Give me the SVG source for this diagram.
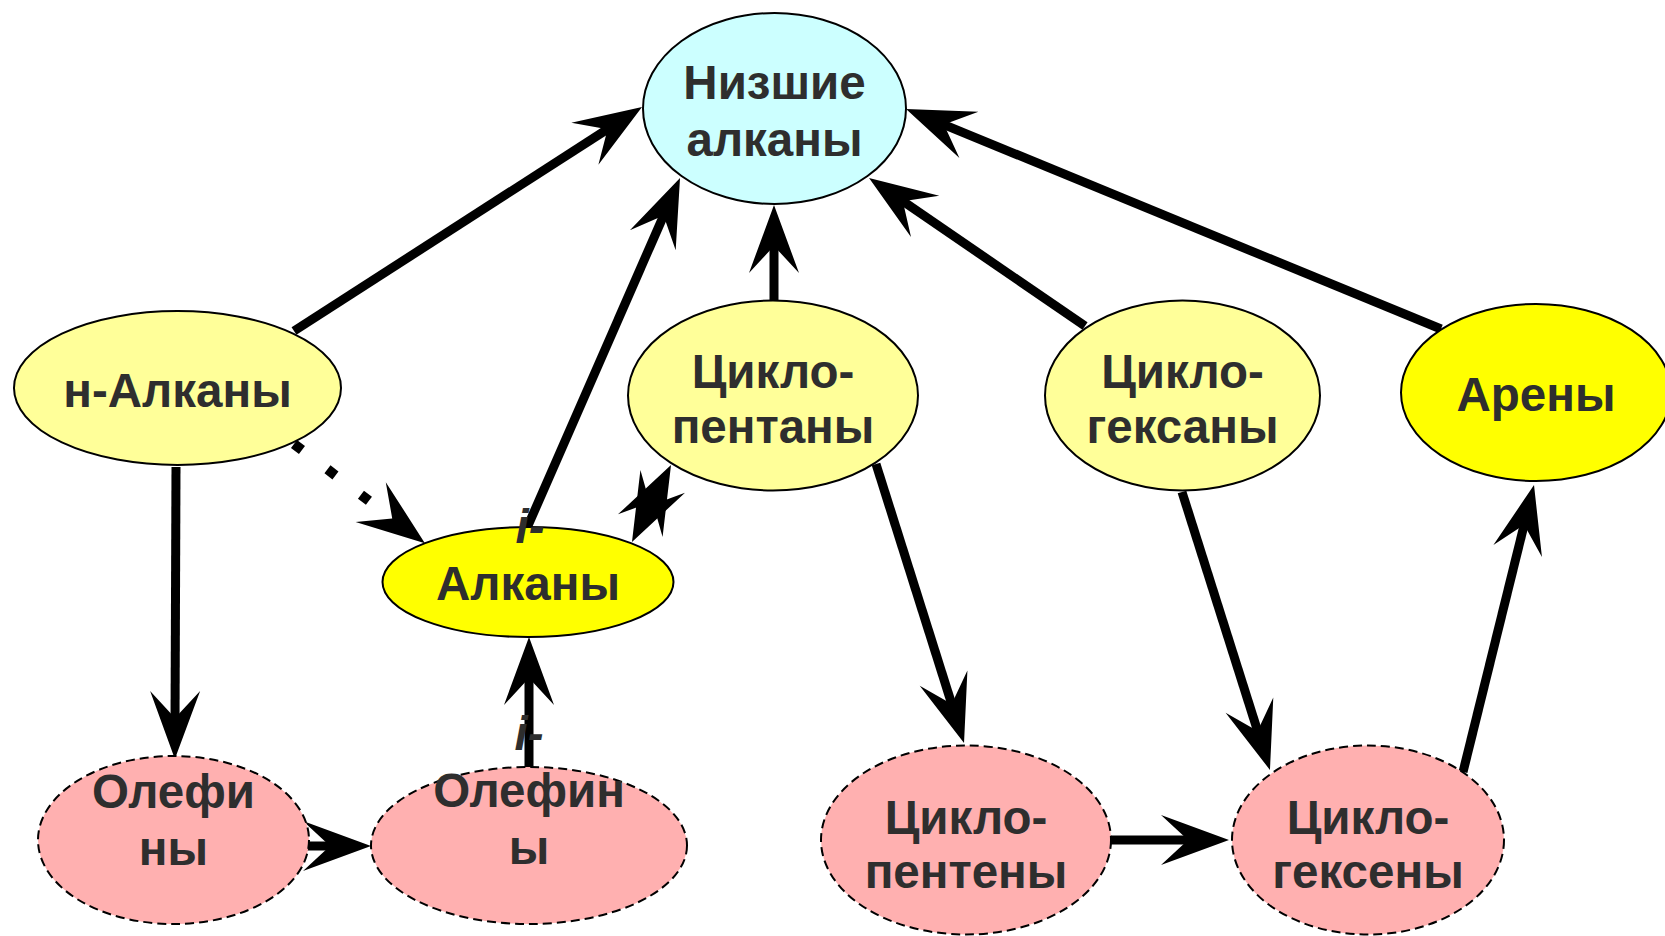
<svg xmlns="http://www.w3.org/2000/svg" width="1665" height="936" viewBox="0 0 1665 936">
<style>
.n{stroke:#000;stroke-width:2}
.d{stroke:#000;stroke-width:2;stroke-dasharray:9 5;fill:#FFB0B0}
.ly{fill:#FFFF99}
.y{fill:#FFFF00}
.c{fill:#CCFFFF}
text{font-family:"Liberation Sans",Arial,sans-serif;font-weight:bold;font-size:47.5px;fill:#2E2E2E;text-anchor:middle}
.it{font-style:italic}
.e{stroke:#000;stroke-width:9;fill:none;marker-end:url(#ah)}
</style>
<defs>
<marker id="ah" markerUnits="userSpaceOnUse" orient="auto-start-reverse" markerWidth="80" markerHeight="60" viewBox="-40 -30 80 60" refX="0" refY="0" overflow="visible">
<path d="M35,0 L-33,-25 L-6,0 L-33,25 Z" fill="#000"/>
</marker>
</defs>
<rect width="1665" height="936" fill="#fff"/>
<g id="connectors">
<line class="e" x1="294" y1="331" x2="612.6" y2="125.9"/>
<line class="e" x1="527" y1="528" x2="666" y2="210.1"/>
<line class="e" x1="774" y1="300" x2="774" y2="240"/>
<line class="e" x1="1085" y1="326" x2="897.9" y2="197.8"/>
<line class="e" x1="1441" y1="329" x2="938.4" y2="122.3"/>
<line class="e" x1="176" y1="467" x2="175" y2="724"/>
<line x1="294" y1="444" x2="397" y2="522" stroke="#000" stroke-width="10" stroke-dasharray="10 32" marker-end="url(#ah)"/>
<line class="e" x1="647.8" y1="510.8" x2="655.2" y2="496.2" style="marker-start:url(#ah)"/>
<line class="e" x1="300" y1="846" x2="336" y2="846"/>
<line class="e" x1="529" y1="767" x2="529" y2="672"/>
<line class="e" x1="876" y1="464" x2="953.5" y2="709.6"/>
<line class="e" x1="1182" y1="492" x2="1259.4" y2="736.6"/>
<line class="e" x1="1110" y1="840" x2="1194" y2="840"/>
<line class="e" x1="1463" y1="772" x2="1525.6" y2="519"/>
</g>
<g id="nizshie">
<ellipse class="n c" cx="774.5" cy="108.5" rx="131.5" ry="95.5"/>
<text x="774.5" y="99">Низшие</text>
<text x="774.5" y="156">алканы</text>
</g>
<g id="n-alkany">
<ellipse class="n ly" cx="177.5" cy="388" rx="163.5" ry="77"/>
<text x="177.5" y="407">н-Алканы</text>
</g>
<g id="ciklopentany">
<ellipse class="n ly" cx="773" cy="395.5" rx="145" ry="95"/>
<text x="773" y="388">Цикло-</text>
<text x="773" y="443">пентаны</text>
</g>
<g id="ciklogeksany">
<ellipse class="n ly" cx="1182.5" cy="395.5" rx="137.5" ry="95"/>
<text x="1182.5" y="388">Цикло-</text>
<text x="1182.5" y="443">гексаны</text>
</g>
<g id="areny">
<ellipse class="n y" cx="1536" cy="392.5" rx="135" ry="88.5"/>
<text x="1536" y="411">Арены</text>
</g>
<g id="i-alkany">
<ellipse class="n y" cx="528" cy="582" rx="145.5" ry="55"/>
<text class="it" x="530" y="543">i-</text>
<text x="528" y="600">Алканы</text>
</g>
<g id="olefiny">
<ellipse class="d" cx="173.5" cy="840" rx="135.5" ry="84"/>
<text x="173.5" y="808">Олефи</text>
<text x="173.5" y="865">ны</text>
</g>
<g id="i-olefiny">
<ellipse class="d" cx="529" cy="845.5" rx="158" ry="78.5"/>
<text class="it" x="529" y="750">i-</text>
<text x="529" y="807">Олефин</text>
<text x="529" y="864">ы</text>
</g>
<g id="ciklopenteny">
<ellipse class="d" cx="966" cy="840" rx="145" ry="94.5"/>
<text x="966" y="834">Цикло-</text>
<text x="966" y="888">пентены</text>
</g>
<g id="ciklogekseny">
<ellipse class="d" cx="1368" cy="840" rx="136" ry="94.5"/>
<text x="1368" y="834">Цикло-</text>
<text x="1368" y="888">гексены</text>
</g>
</svg>
